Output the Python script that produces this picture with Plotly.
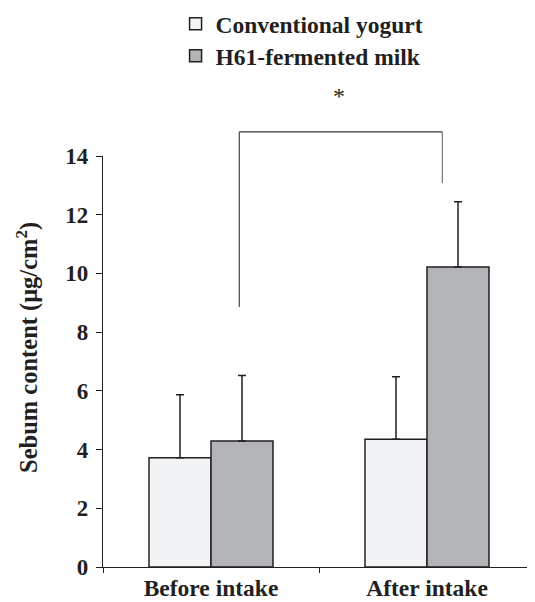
import plotly.graph_objects as go

categories = ["Before intake", "After intake"]
series_names = ["Conventional yogurt", "H61-fermented milk"]
conventional = [3.72, 4.35]
conventional_sd = [2.15, 2.13]
h61 = [4.29, 10.22]
h61_sd = [2.23, 2.22]
y_ticks = [0, 2, 4, 6, 8, 10, 12, 14]
y_title = "<b>Sebum content (μg/cm<sup>2</sup>)</b>"

# significance bracket (data coordinates)
bracket_x = [0.131, 1.071]
bracket_top = 14.82
bracket_bottoms = [8.86, 13.08]
star_pos = (0.594, 16.55)

FONT = "Liberation Serif, Times New Roman, serif"
DARK = "#231f20"

fig = go.Figure()
fig.add_trace(go.Bar(
    x=categories, y=conventional, name=series_names[0],
    marker=dict(color="#f2f3f5", line=dict(color=DARK, width=1.5)),
    error_y=dict(type="data", array=conventional_sd, arrayminus=[0, 0], symmetric=False,
                 color=DARK, thickness=1.5, width=4),
    legend="legend",
))
fig.add_trace(go.Bar(
    x=categories, y=h61, name=series_names[1],
    marker=dict(color="#b3b4b8", line=dict(color=DARK, width=1.5)),
    error_y=dict(type="data", array=h61_sd, arrayminus=[0, 0], symmetric=False,
                 color=DARK, thickness=1.5, width=4),
    legend="legend2",
))

ymax = y_ticks[-1]
# bracket with yref paper (value / ymax since range is [0, ymax])
fig.add_shape(type="line", xref="x", yref="paper", x0=bracket_x[0], x1=bracket_x[0],
              y0=bracket_bottoms[0] / ymax, y1=bracket_top / ymax, line=dict(color="#444", width=1.2))
fig.add_shape(type="line", xref="x", yref="paper", x0=bracket_x[1], x1=bracket_x[1],
              y0=bracket_bottoms[1] / ymax, y1=bracket_top / ymax, line=dict(color="#777", width=1.2))
fig.add_shape(type="line", xref="x", yref="paper", x0=bracket_x[0], x1=bracket_x[1],
              y0=bracket_top / ymax, y1=bracket_top / ymax, line=dict(color="#333", width=1.2))
fig.add_annotation(x=star_pos[0], y=star_pos[1] / ymax, xref="x", yref="paper", text="*",
                   showarrow=False, font=dict(family=FONT, size=24, color=DARK))
# y-axis title
fig.add_annotation(x=-0.175, y=0.534, xref="paper", yref="paper", text=y_title, textangle=-90,
                   showarrow=False, xanchor="center", yanchor="middle",
                   font=dict(family=FONT, size=24.5, color=DARK))

leg_common = dict(xanchor="left", yanchor="top", bgcolor="rgba(0,0,0,0)", itemwidth=30,
                  font=dict(family=FONT, size=23.5, color=DARK, weight="bold"))
fig.update_layout(
    width=527, height=594,
    margin=dict(l=95, r=0, t=148, b=35, autoexpand=False),
    paper_bgcolor="white", plot_bgcolor="white",
    barmode="group", bargap=0.426, bargroupgap=0,
    font=dict(family=FONT, size=22, color=DARK),
    showlegend=True,
    legend=dict(x=0.168, y=1.3747, **leg_common),
    legend2=dict(x=0.168, y=1.2968, **leg_common),
    xaxis=dict(type="category", range=[-0.5, 1.5], showline=True, linecolor=DARK, linewidth=1.2,
               ticks="outside", tickson="boundaries", ticklen=5, tickcolor=DARK,
               tickfont=dict(family=FONT, size=23.5, color=DARK, weight="bold"),
               showgrid=False, zeroline=False),
    yaxis=dict(range=[0, ymax], tickvals=y_ticks, showline=True, linecolor=DARK, linewidth=1.2,
               ticks="outside", ticklen=6, tickcolor=DARK, ticklabelstandoff=3,
               tickfont=dict(family=FONT, size=23, color=DARK, weight="bold"),
               showgrid=False, zeroline=False),
)

fig.write_html("out.html")
